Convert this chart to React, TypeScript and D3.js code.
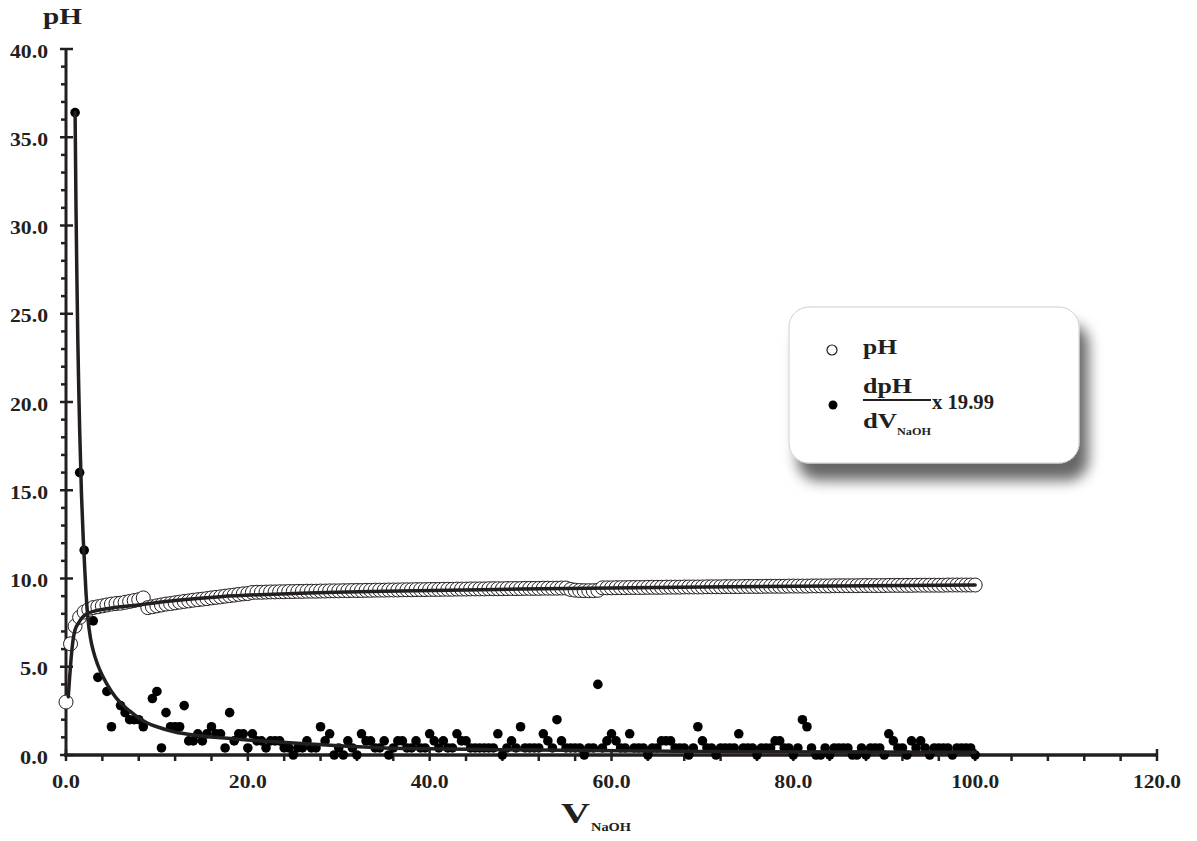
import React from "react";
import * as d3 from "d3";

// ---------- DATA ----------
const pHStep = 0.5;
const pHValues: number[] = [
  3.0, 6.3, 7.3, 7.8, 8.1, 8.25, 8.35, 8.4, 8.45, 8.5,
  8.55, 8.58, 8.6, 8.65, 8.7, 8.75, 8.8, 8.9, 8.35, 8.4,
  8.45, 8.5, 8.55, 8.58, 8.62, 8.66, 8.7, 8.73, 8.77, 8.8,
  8.83, 8.86, 8.9, 8.93, 8.96, 9.0, 9.03, 9.06, 9.1, 9.13,
  9.15,
  9.21, 9.22, 9.22, 9.23, 9.24, 9.24, 9.25, 9.25, 9.26, 9.26,
  9.27, 9.27, 9.28, 9.28, 9.28, 9.29, 9.29, 9.3, 9.3, 9.3,
  9.31, 9.31, 9.32, 9.32, 9.32, 9.33, 9.33, 9.34, 9.34, 9.34,
  9.35, 9.35, 9.35, 9.36, 9.36, 9.36, 9.37, 9.37, 9.37, 9.38,
  9.38, 9.38, 9.39, 9.39, 9.39, 9.4, 9.4, 9.4, 9.41, 9.41,
  9.41, 9.41, 9.42, 9.42, 9.42, 9.42, 9.43, 9.43, 9.43, 9.43,
  9.44, 9.44, 9.44, 9.44, 9.45, 9.45, 9.45, 9.45, 9.46, 9.46,
  9.38, 9.34, 9.32, 9.31, 9.31, 9.31, 9.33, 9.47, 9.47, 9.47,
  9.48, 9.48, 9.48, 9.49, 9.49, 9.49, 9.49, 9.5, 9.5, 9.5,
  9.5, 9.51, 9.51, 9.51, 9.51, 9.52, 9.52, 9.52, 9.52, 9.52,
  9.53, 9.53, 9.53, 9.53, 9.54, 9.54, 9.54, 9.54, 9.55, 9.55,
  9.55, 9.55, 9.55, 9.56, 9.56, 9.56, 9.56, 9.56, 9.57, 9.57,
  9.57, 9.57, 9.57, 9.58, 9.58, 9.58, 9.58, 9.58, 9.59, 9.59,
  9.59, 9.59, 9.59, 9.59, 9.6, 9.6, 9.6, 9.6, 9.6, 9.6,
  9.61, 9.61, 9.61, 9.61, 9.61, 9.61, 9.62, 9.62, 9.62, 9.62,
  9.62, 9.62, 9.62, 9.63, 9.63, 9.63, 9.63, 9.63, 9.63, 9.63,
];
const pHVolumes: number[] = pHValues.map((_, i) => i * pHStep);

const derivStart = 1.0;
const derivValues: (number | null)[] = [
  36.4, 16.0, 11.6, null, 7.6, 4.4, null, 3.6, 1.6, null,
  2.8, 2.4, 2.0, 2.0, 2.0, 1.6, null, 3.2, 3.6, 0.4,
  2.4, 1.6, 1.6, 1.6, 2.8, 0.8, 0.8, 1.2, 0.8, 1.2,
  1.6, 1.2, 1.2, 0.4, 2.4, 0.8, 1.2, 1.2, 0.4, 1.2,
  0.8, 0.8, 0.4, 0.8, 0.8, 0.8, 0.4, 0.4, 0.0, 0.4,
  0.4, 0.8, 0.4, 0.4, 1.6, 0.8, 1.2, 0.0, 0.4, 0.0,
  0.8, 0.4, 0.0, 1.2, 0.8, 0.8, 0.4, 0.4, 0.8, 0.0,
  0.4, 0.8, 0.8, 0.4, 0.4, 0.8, 0.4, 0.4, 1.2, 0.8,
  0.4, 0.8, 0.4, 0.4, 1.2, 0.8, 0.8, 0.4, 0.4, 0.4,
  0.4, 0.4, 0.4, 1.2, 0.0, 0.4, 0.8, 0.4, 1.6, 0.4,
  0.4, 0.4, 0.4, 1.2, 0.8, 0.4, 2.0, 0.8, 0.4, 0.4,
  0.4, 0.4, 0.0, 0.4, 0.4, 4.0, 0.4, 0.8, 1.2, 0.8,
  0.4, 0.4, 1.2, 0.4, 0.4, 0.4, 0.0, 0.4, 0.4, 0.8,
  0.8, 0.8, 0.4, 0.4, 0.4, 0.0, 0.4, 1.6, 0.8, 0.4,
  0.4, 0.0, 0.4, 0.4, 0.4, 0.4, 1.2, 0.4, 0.4, 0.4,
  0.0, 0.4, 0.4, 0.4, 0.8, 0.8, 0.4, 0.4, 0.0, 0.4,
  2.0, 1.6, 0.4, 0.0, 0.0, 0.4, 0.0, 0.4, 0.4, 0.4,
  0.4, 0.0, 0.0, 0.4, 0.0, 0.4, 0.4, 0.4, 0.0, 1.2,
  0.8, 0.4, 0.4, 0.0, 0.8, 0.4, 0.8, 0.4, 0.0, 0.4,
  0.4, 0.4, 0.4, 0.0, 0.4, 0.4, 0.4, 0.4, 0.0,
];
const derivVolumes: number[] = derivValues.map((_, i) => derivStart + i * 0.5);

// fitted curves
const pHFitV = [0.25, 0.4, 0.55, 0.8, 1.0, 1.36, 1.8, 2.3, 3.5, 5, 7.9, 12, 17, 25, 35, 50, 70, 100];
const pHFitY = [3.3, 4.4, 5.4, 6.6, 7.1, 7.46, 7.8, 8.0, 8.2, 8.33, 8.5, 8.75, 8.97, 9.15, 9.28, 9.4, 9.52, 9.63];

const derivFitV = [1.0, 1.1, 1.2, 1.3, 1.4, 1.5, 1.7, 1.9, 2.0, 2.2, 2.4, 2.7, 3.0, 3.5, 4.0, 5.0, 6.0, 7.0, 8.0, 9.0, 10, 12, 14, 16.4, 20, 25, 30, 35, 40, 52, 70, 85, 100];
const derivFitY = [36.4, 31, 27, 23.5, 20.8, 18.5, 14.8, 12.2, 11.2, 9.2, 7.8, 6.6, 5.9, 5.1, 4.5, 3.6, 2.95, 2.5, 2.1, 1.8, 1.6, 1.3, 1.13, 1.0, 0.85, 0.68, 0.52, 0.4, 0.35, 0.28, 0.2, 0.17, 0.15];

const xMajorTicks = [0, 20, 40, 60, 80, 100, 120];
const yMajorTicks = [0, 5, 10, 15, 20, 25, 30, 35, 40];

// ---------- LAYOUT ----------
const W = 1197;
const H = 841;
const INK = "#231f20";
const FONT = "'Liberation Serif', 'Times New Roman', serif";

const x = d3.scaleLinear().domain([0, 120]).range([66, 1157]);
const y = d3.scaleLinear().domain([0, 40]).range([755, 49]);

const fmt = d3.format(".1f");

function labelWidth(s: string) {
  return s.length === 3 ? 28 : s.length === 4 ? 38 : 48;
}

export default function App() {
  const pHPts = pHVolumes.map((v, i) => ({ v, p: pHValues[i] }));
  const dPts = derivVolumes
    .map((v, i) => ({ v, p: derivValues[i] }))
    .filter((d) => d.p !== null) as { v: number; p: number }[];

  const line = d3
    .line<[number, number]>()
    .x((d) => x(d[0]))
    .y((d) => y(d[1]))
    .curve(d3.curveMonotoneX);

  const pHFitPath = line(pHFitV.map((v, i) => [v, pHFitY[i]]));
  const derivFitPath = line(derivFitV.map((v, i) => [v, derivFitY[i]]));

  const yMinor = d3.range(0, 41, 1).filter((t) => t % 5 !== 0);
  const xMinor = d3.range(0, 121, 4).filter((t) => t % 20 !== 0);

  return (
    <svg
      width={W}
      height={H}
      style={{ position: "absolute", left: 0, top: 0, background: "#fff" }}
      fontFamily={FONT}
    >
      <defs>
        <filter id="shadow" x="-20%" y="-20%" width="150%" height="170%">
          <feDropShadow dx="9" dy="17" stdDeviation="7" floodColor="#000" floodOpacity="0.6" />
        </filter>
      </defs>
      <rect width={W} height={H} fill="#fff" />

      {/* axis title pH */}
      <text x={43} y={24} fontSize={24} fontWeight="bold" fill={INK} textLength={39} lengthAdjust="spacingAndGlyphs">
        pH
      </text>

      {/* Y axis */}
      <line x1={66} x2={66} y1={y(0) + 1} y2={y(40) - 1} stroke={INK} strokeWidth={3} />
      {yMinor.map((t) => (
        <line key={"ym" + t} x1={61} x2={66} y1={y(t)} y2={y(t)} stroke={INK} strokeWidth={2.5} />
      ))}
      {yMajorTicks.map((t) => {
        const s = fmt(t);
        return (
          <g key={"yM" + t}>
            <line x1={60} x2={73} y1={y(t)} y2={y(t)} stroke={INK} strokeWidth={2.5} />
            <text
              x={48 - labelWidth(s)}
              y={y(t) + 8.5}
              fontSize={18.5}
              fontWeight="bold"
              fill={INK}
              textLength={labelWidth(s)}
              lengthAdjust="spacingAndGlyphs"
            >
              {s}
            </text>
          </g>
        );
      })}

      {/* X axis */}
      <line x1={64} x2={x(120) + 1} y1={755} y2={755} stroke={INK} strokeWidth={3.5} />
      {xMinor.map((t) => (
        <line key={"xm" + t} x1={x(t)} x2={x(t)} y1={755} y2={761} stroke={INK} strokeWidth={2.5} />
      ))}
      {xMajorTicks.map((t) => {
        const s = fmt(t);
        const w = labelWidth(s);
        return (
          <g key={"xM" + t}>
            <line x1={x(t)} x2={x(t)} y1={749} y2={761} stroke={INK} strokeWidth={2.5} />
            <text
              x={x(t) - w / 2}
              y={788}
              fontSize={18.5}
              fontWeight="bold"
              fill={INK}
              textLength={w}
              lengthAdjust="spacingAndGlyphs"
            >
              {s}
            </text>
          </g>
        );
      })}

      {/* X axis title */}
      <text x={561} y={823} fontSize={30} fontWeight="bold" fill={INK} textLength={29} lengthAdjust="spacingAndGlyphs">
        V
      </text>
      <text x={591} y={831} fontSize={12} fontWeight="bold" fill={INK} textLength={40} lengthAdjust="spacingAndGlyphs">
        NaOH
      </text>

      {/* pH open circles */}
      {pHPts.map((d, i) => (
        <circle key={"p" + i} cx={x(d.v)} cy={y(d.p)} r={7} fill="#fff" stroke={INK} strokeWidth={1} />
      ))}

      {/* derivative filled dots */}
      {dPts.map((d, i) => (
        <circle key={"d" + i} cx={x(d.v)} cy={y(d.p)} r={4.8} fill="#000" />
      ))}

      {/* fitted curves */}
      <path d={pHFitPath || ""} fill="none" stroke={INK} strokeWidth={3.5} strokeLinecap="round" />
      <path d={derivFitPath || ""} fill="none" stroke={INK} strokeWidth={3.5} strokeLinecap="round" />

      {/* legend */}
      <rect x={789} y={307} width={290} height={156} rx={20} ry={20} fill="#fff" stroke="#cfcfcf" strokeWidth={1} filter="url(#shadow)" />
      <circle cx={832} cy={350} r={5} fill="#fff" stroke={INK} strokeWidth={1.2} />
      <text x={863} y={354} fontSize={22} fontWeight="bold" fill={INK} textLength={34} lengthAdjust="spacingAndGlyphs">
        pH
      </text>
      <circle cx={833} cy={405} r={4.5} fill="#000" />
      <text x={863} y={393} fontSize={22} fontWeight="bold" fill={INK} textLength={49} lengthAdjust="spacingAndGlyphs">
        dpH
      </text>
      <line x1={863} x2={931} y1={400} y2={400} stroke={INK} strokeWidth={2} />
      <text x={932} y={409} fontSize={22} fontWeight="bold" fill={INK} textLength={62} lengthAdjust="spacingAndGlyphs">
        x 19.99
      </text>
      <text x={863} y={428} fontSize={22} fontWeight="bold" fill={INK} textLength={34} lengthAdjust="spacingAndGlyphs">
        dV
      </text>
      <text x={897} y={435} fontSize={11} fontWeight="bold" fill={INK} textLength={34} lengthAdjust="spacingAndGlyphs">
        NaOH
      </text>
    </svg>
  );
}
